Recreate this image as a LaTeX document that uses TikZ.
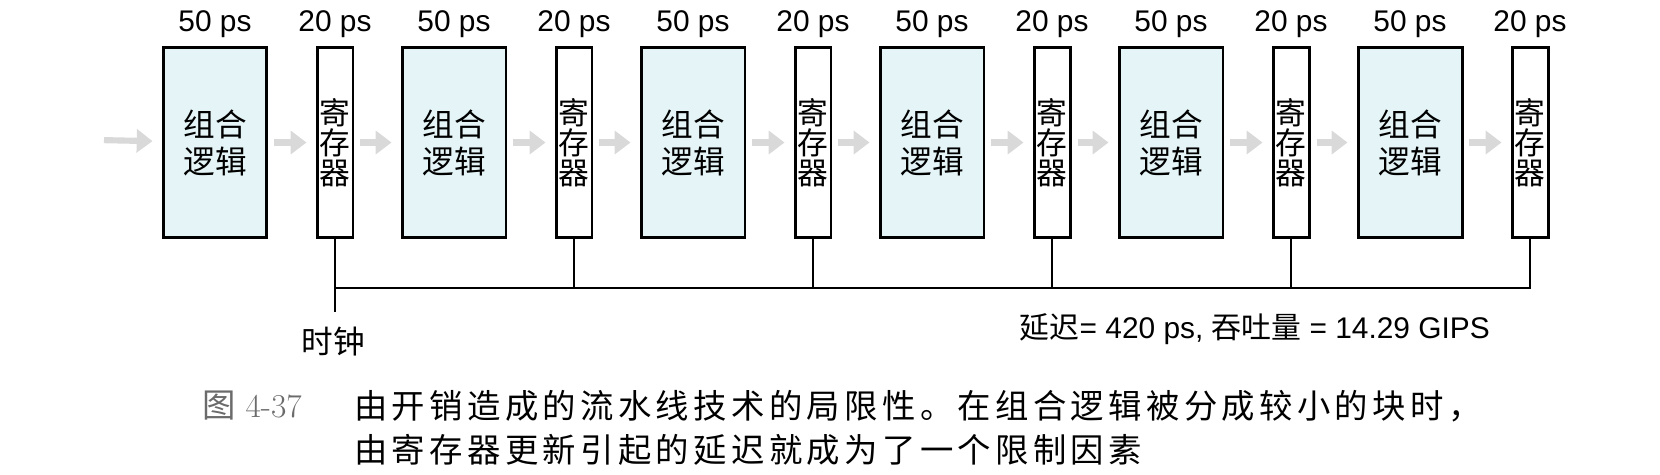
\documentclass[tikz,border=0pt]{standalone}
\usepackage{fontspec}
\setsansfont{Liberation Sans}
\newfontfamily\cjk{Noto Sans CJK SC}
\newfontfamily\cjkcap[LetterSpace=13]{Noto Sans CJK SC}
\usepackage{tikz}
\usetikzlibrary{positioning, arrows.meta}
\definecolor{logicblue}{rgb}{0.90, 0.96, 0.97}
\definecolor{fignumgray}{rgb}{0.42, 0.42, 0.42}

\begin{document}
\begin{tikzpicture}[x=0.02cm, y=-0.02cm, every node/.style={font=\sffamily}]
		\useasboundingbox (0,0) rectangle (1660,474);
		\tikzset{
			logic/.style={draw, line width=1.7pt, fill=logicblue, minimum width=2.08cm, minimum height=3.82cm, align=center, font=\cjk\fontsize{18}{21}\selectfont},
			reg/.style={draw, line width=1.7pt, fill=white, minimum width=0.72cm, minimum height=3.82cm, inner sep=0pt, align=center, font=\cjk\fontsize{17.5}{17}\selectfont},
			delay/.style={font=\sffamily\fontsize{17}{19}\selectfont},
			flow/.style={gray!30, line width=3.5pt, -{Triangle[length=9pt, width=13pt]}, shorten <=0.12cm, shorten >=0.18cm},
			wire/.style={line width=1.6pt}
		}
		%% stages: combinational logic + register
		\coordinate (in) at (98,140);
		\foreach \i in {1,...,6} {
			\node[logic] (L\i) at ({215+239*(\i-1)}, 142.5) {组合\\逻辑};
			\node[reg] (R\i) at ({335+239*(\i-1)}, 142.5) {寄\\存\\器};
			\node[delay] (tL\i) at ({215+239*(\i-1)}, 24) {50 ps};
			\node[delay] (tR\i) at ({335+239*(\i-1)}, 24) {20 ps};
			\draw[flow] (L\i) -- (R\i);
		}
		\draw[flow] (in) -- (L1);
		\foreach \i [evaluate=\i as \j using int(\i+1)] in {1,...,5}
			\draw[flow] (R\i) -- (L\j);
		
		%% clock
		\coordinate (bar) at (0,288);
		\coordinate (clk) at (335,312);
		\draw[wire] (R1.south |- bar) -| (R6.south);
		\foreach \i in {2,...,5}
			\draw[wire] (R\i.south) -- (R\i.south |- bar);
		\draw[wire] (R1.south) -- (clk);
		\node[font=\cjk\fontsize{18}{18}\selectfont] (clklabel) at (333,342) {时钟};
		\node[delay, anchor=east] (perf) at (1496,329) {{\cjk 延迟}= 420 ps, {\cjk 吞吐量} = 14.29 GIPS};
		
		%% caption
		\node[anchor=west, text=fignumgray, font=\fontsize{19}{21}\selectfont] (fignum) at (196,406) {{\cjk 图} \rmfamily 4-37};
		\node[anchor=west, font=\cjkcap\fontsize{19}{21}\selectfont] (cap1) at (348,406) {由开销造成的流水线技术的局限性。在组合逻辑被分成较小的块时，};
		\node[anchor=west, font=\cjkcap\fontsize{19}{21}\selectfont] (cap2) at (348,450) {由寄存器更新引起的延迟就成为了一个限制因素};
\end{tikzpicture}
\end{document}
